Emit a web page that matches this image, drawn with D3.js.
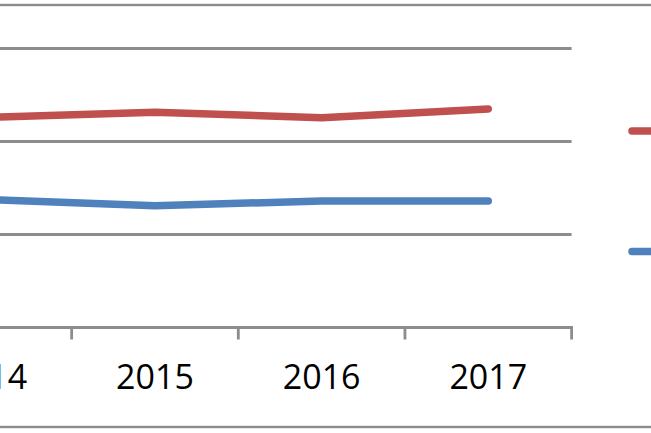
<!DOCTYPE html>
<html>
<head>
<meta charset="utf-8">
<script src="https://cdn.jsdelivr.net/npm/d3@7"></script>
<style>
html,body{margin:0;padding:0;background:#fff;overflow:hidden;}
svg{display:block;}
</style>
</head>
<body>
<svg id="chart" width="651" height="433"></svg>
<script>
const categories = ["2014", "2015", "2016", "2017"];
const seriesRed = [22.6, 23.15, 22.55, 23.5];
const seriesBlue = [13.75, 13.1, 13.6, 13.6];
const yTicks = [0, 10, 20, 30];

const svg = d3.select("#chart");
const W = 651, H = 433;

// chart border (only top/bottom visible in crop)
svg.append("rect").attr("x", -200).attr("y", 5).attr("width", W + 400).attr("height", 422)
  .attr("fill", "#fff").attr("stroke", "#8c8c8c").attr("stroke-width", 2.4);

const x = d3.scaleBand().domain(categories).range([-95, 571.6]);
const y = d3.scaleLinear().domain([0, 30]).range([327.5, 48.5]);

// gridlines
svg.append("g").selectAll("line").data(yTicks.filter(d => d > 0)).join("line")
  .attr("x1", -100).attr("x2", 571.6)
  .attr("y1", d => y(d)).attr("y2", d => y(d))
  .attr("stroke", "#8c8c8c").attr("stroke-width", 2.8);

// x axis
const xAxis = d3.axisBottom(x).tickSize(0).tickPadding(0);
const gx = svg.append("g").attr("transform", `translate(0,${y(0)})`).call(xAxis);
gx.select(".domain").remove();
gx.selectAll("text").attr("font-family", "'Open Sans', sans-serif").attr("font-size", 34)
  .attr("fill", "#000").attr("dy", null).attr("y", 61.5);
svg.append("line").attr("x1", -100).attr("x2", 572.8).attr("y1", y(0)).attr("y2", y(0))
  .attr("stroke", "#8c8c8c").attr("stroke-width", 2.8);
// category boundary ticks
const bounds = categories.map(c => x(c)).concat([x(categories[categories.length - 1]) + x.bandwidth()]);
svg.append("g").selectAll("line").data(bounds).join("line")
  .attr("x1", d => d).attr("x2", d => d)
  .attr("y1", y(0) - 1.4).attr("y2", y(0) + 12)
  .attr("stroke", "#8c8c8c").attr("stroke-width", 2.8);

const line = d3.line().x((d, i) => x(categories[i]) + x.bandwidth() / 2).y(d => y(d));
const series = [
  {vals: seriesRed, color: "#C0504D"},
  {vals: seriesBlue, color: "#4F81BD"}
];
svg.append("g").selectAll("path").data(series).join("path")
  .attr("d", d => line(d.vals))
  .attr("fill", "none").attr("stroke", d => d.color).attr("stroke-width", 7.5)
  .attr("stroke-linecap", "round").attr("stroke-linejoin", "round");

// legend (cropped)
const legendY = [131, 251.5];
svg.append("g").selectAll("line").data(series).join("line")
  .attr("x1", 632).attr("x2", 680)
  .attr("y1", (d, i) => legendY[i]).attr("y2", (d, i) => legendY[i])
  .attr("stroke", d => d.color).attr("stroke-width", 7.5).attr("stroke-linecap", "round");
</script>
</body>
</html>
